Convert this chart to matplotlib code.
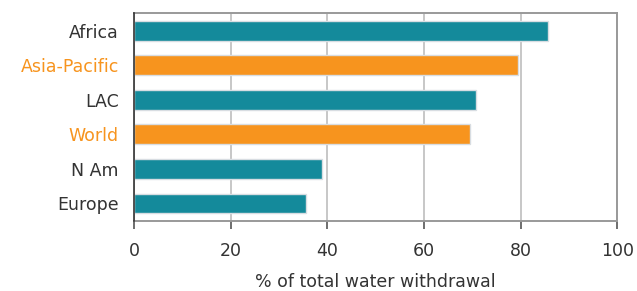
import numpy as np
import matplotlib.pyplot as plt

# données
regions = ["Africa", "Asia-Pacific", "LAC", "World", "N Am", "Europe"]
valeurs = [85.6, 79.4, 70.7, 69.5, 38.9, 35.5]
couleurs = ["#148A9B", "#F7941E", "#148A9B", "#F7941E", "#148A9B", "#148A9B"]
couleurs_texte = ["#333333", "#F7941E", "#333333", "#F7941E", "#333333", "#333333"]

plt.rcParams['font.family'] = ['DejaVu Sans']

fig = plt.figure(figsize=(6.37, 2.91), dpi=100)
ax = fig.add_axes([0.2104, 0.2416, 0.7586, 0.7124])

y = np.arange(len(regions))
ax.barh(y, valeurs, height=0.57, color=couleurs, edgecolor="#D8DDE2", linewidth=1.0, zorder=3)

ax.set_xlim(0, 100)
ax.set_ylim(len(regions) - 0.5, -0.5)
ax.set_xticks(np.arange(0, 101, 20))
ax.set_yticks(y)
ax.set_yticklabels(regions)
for lab, c in zip(ax.get_yticklabels(), couleurs_texte):
    lab.set_color(c)

ax.grid(True, axis="x", color="#BDBDBD", linewidth=1.2, zorder=0)
ax.tick_params(axis="y", length=0, pad=11, labelsize=12.5)
ax.tick_params(axis="x", length=6, width=1.2, color="#555555", labelsize=12.5, labelcolor="#333333", pad=9)

for s in ["top", "right", "bottom"]:
    ax.spines[s].set_color("#999999")
    ax.spines[s].set_linewidth(1.4)
ax.spines["left"].set_color("#333333")
ax.spines["left"].set_linewidth(1.2)
ax.spines["left"].set_zorder(4)

ax.set_xlabel("% of total water withdrawal", fontsize=12.5, color="#333333", labelpad=10)

fig.savefig("out.png", dpi=100)
